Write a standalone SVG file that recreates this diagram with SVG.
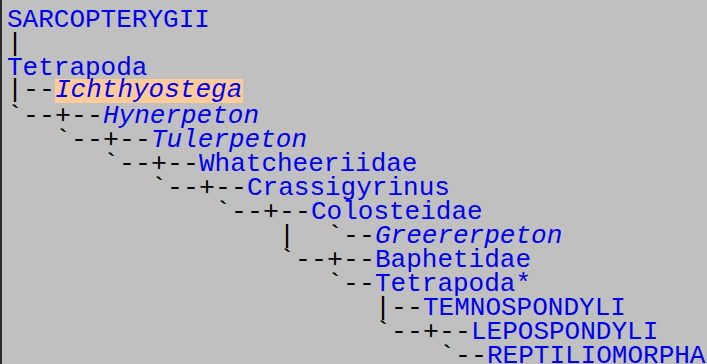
<svg xmlns="http://www.w3.org/2000/svg" width="707" height="364" viewBox="0 0 707 364">
  <style>
    .ln { font-family: "Liberation Mono", "DejaVu Sans Mono", monospace; font-size: 26.67px; fill: #000000; }
    .tx { font-family: "Liberation Mono", "DejaVu Sans Mono", monospace; font-size: 26px; fill: #0000ee; }
    .it { font-style: italic; }
  </style>
  <!-- page -->
  <rect x="0" y="0" width="707" height="364" fill="#c0c0c0"/>
  <rect x="0" y="0" width="2" height="364" fill="#2c2c2c"/>

  <!-- tree connectors, one 16px column per character -->
  <g id="connectors" class="ln">
    <text x="7" y="51">|</text>
    <text x="7" y="97">|--</text>
    <text x="7" y="123">`--+--</text>
    <text x="55" y="147">`--+--</text>
    <text x="103" y="171">`--+--</text>
    <text x="151" y="195">`--+--</text>
    <text x="215" y="219">`--+--</text>
    <text x="279" y="243">|</text>
    <text x="327" y="243">`--</text>
    <text x="279" y="267">`--+--</text>
    <text x="327" y="291">`--</text>
    <text x="375" y="315">|--</text>
    <text x="375" y="339">`--+--</text>
    <text x="439" y="363">`--</text>
  </g>

  <!-- taxa -->
  <g id="sarcopterygii"><text class="tx" x="7" y="27">SARCOPTERYGII</text></g>
  <g id="tetrapoda"><text class="tx" x="7" y="75">Tetrapoda</text></g>
  <g id="ichthyostega">
    <rect x="55" y="79" width="188" height="24" fill="#ffcc99"/>
    <text class="tx it" x="55" y="97">Ichthyostega</text>
  </g>
  <g id="hynerpeton"><text class="tx it" x="103" y="123">Hynerpeton</text></g>
  <g id="tulerpeton"><text class="tx it" x="151" y="147">Tulerpeton</text></g>
  <g id="whatcheeriidae"><text class="tx" x="199" y="171">Whatcheeriidae</text></g>
  <g id="crassigyrinus"><text class="tx" x="247" y="195">Crassigyrinus</text></g>
  <g id="colosteidae"><text class="tx" x="311" y="219">Colosteidae</text></g>
  <g id="greererpeton"><text class="tx it" x="375" y="243">Greererpeton</text></g>
  <g id="baphetidae"><text class="tx" x="375" y="267">Baphetidae</text></g>
  <g id="tetrapoda-crown"><text class="tx" x="375" y="291">Tetrapoda*</text></g>
  <g id="temnospondyli"><text class="tx" x="423" y="315">TEMNOSPONDYLI</text></g>
  <g id="lepospondyli"><text class="tx" x="471" y="339">LEPOSPONDYLI</text></g>
  <g id="reptiliomorpha"><text class="tx" x="487" y="363">REPTILIOMORPHA</text></g>
</svg>
